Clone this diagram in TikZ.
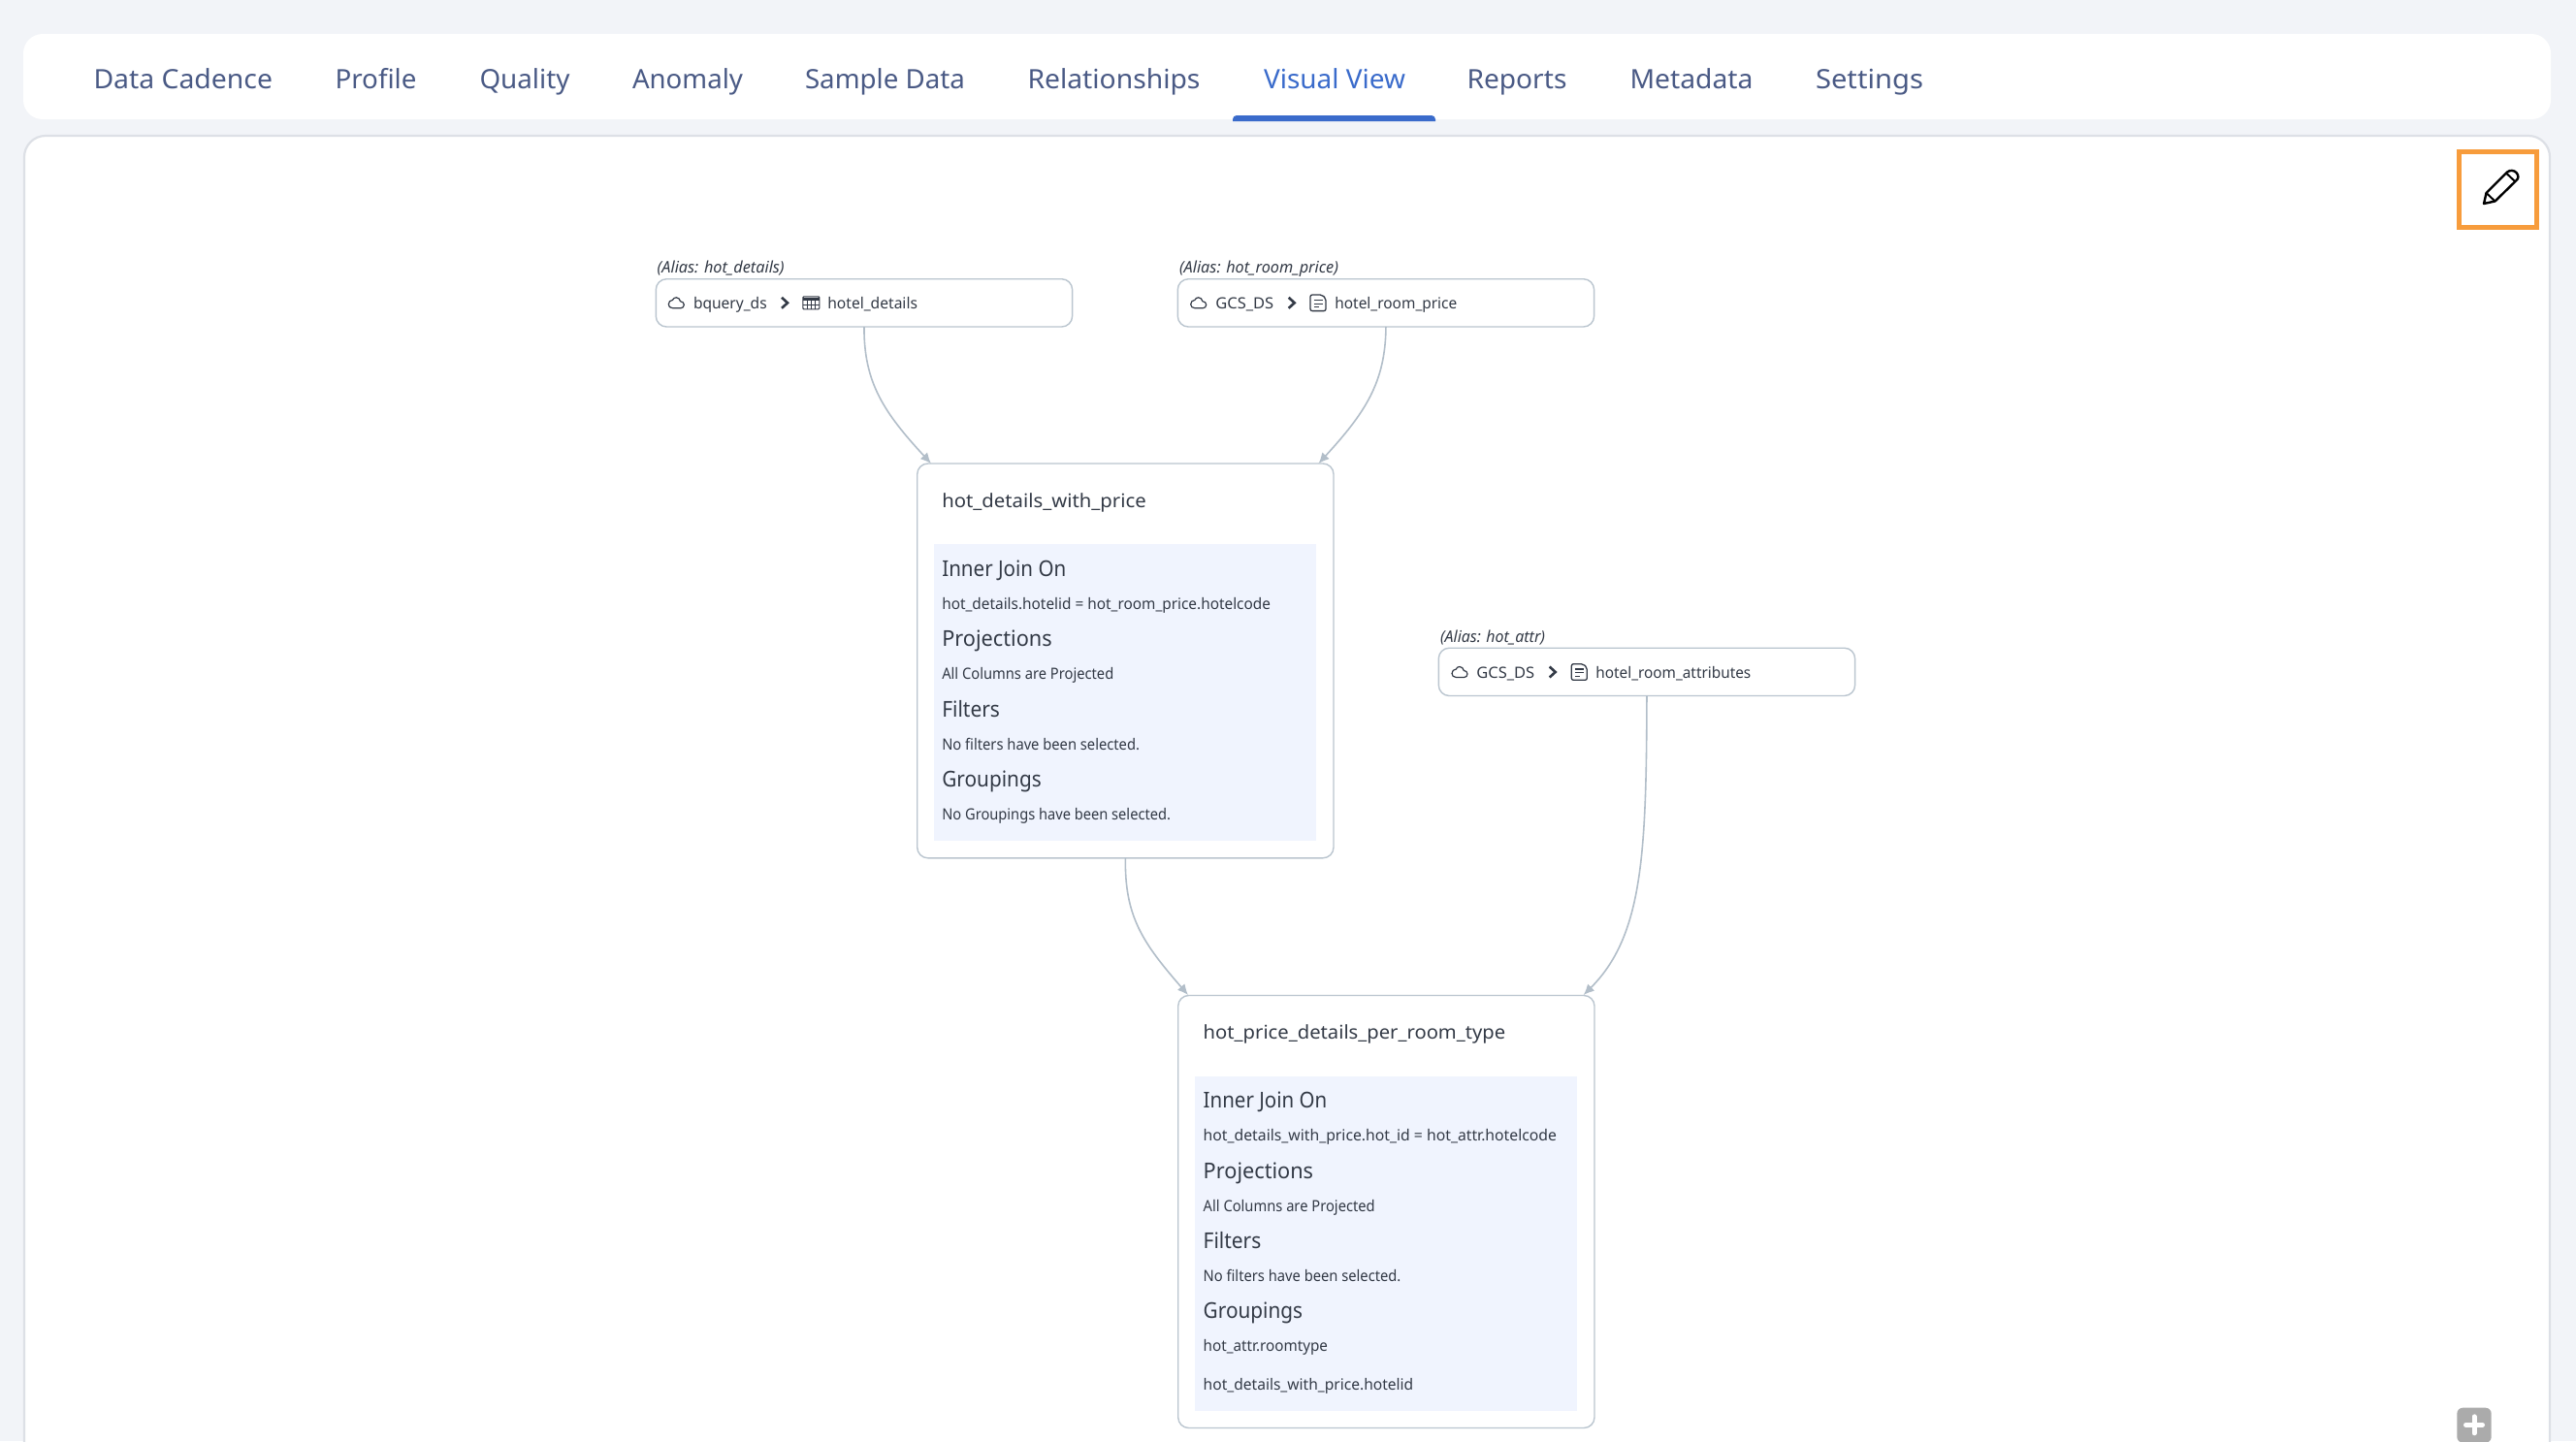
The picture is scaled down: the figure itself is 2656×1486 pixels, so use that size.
\documentclass[tikz,border=0pt]{standalone}
\usepackage{fontspec}
\usepackage{graphicx}
\setmainfont{Noto Sans}
\usetikzlibrary{arrows.meta,calc}
\definecolor{pagebg}{HTML}{F2F4F8}
\definecolor{panelline}{HTML}{DDE0E6}
\definecolor{tabtext}{HTML}{4A5A85}
\definecolor{tabblue}{HTML}{3A6BCB}
\definecolor{nodeline}{HTML}{BAC5CF}
\definecolor{edgeline}{HTML}{B2BEC9}
\definecolor{softblue}{HTML}{F0F4FE}
\definecolor{inktext}{HTML}{333A46}
\definecolor{accent}{HTML}{F79C3C}
\definecolor{plusgrey}{HTML}{ABABAB}
\newsavebox{\fitbox}
\newcommand{\fitw}[2]{\sbox{\fitbox}{#2}\pgfmathsetmacro{\fitr}{#1/\the\wd\fitbox}\scalebox{\fitr}[1]{\usebox{\fitbox}}}
\tikzset{
  x=1pt,y=-1pt,outer sep=0pt,
  tabtxt/.style={anchor=base west,inner sep=0,text=tabtext,font=\fontsize{27.5}{30}\selectfont},
  tabact/.style={tabtxt,text=tabblue},
  aliastxt/.style={anchor=base west,inner sep=0,text=inktext,font=\fontsize{16.5}{18}\selectfont\itshape},
  srctxt/.style={anchor=base west,inner sep=0,text=inktext,font=\fontsize{16}{18}\selectfont},
  titletxt/.style={anchor=base west,inner sep=0,text=inktext,font=\fontsize{19.5}{22}\selectfont},
  headtxt/.style={anchor=base west,inner sep=0,text=inktext,font=\fontsize{22.5}{25}\selectfont},
  smalltxt/.style={anchor=base west,inner sep=0,text=inktext,font=\fontsize{16}{18}\selectfont},
  srcbox/.style={draw=nodeline,line width=1.4pt,fill=white,rounded corners=11pt,minimum width=429.3pt,minimum height=49.3pt,inner sep=0,anchor=north west},
  opbox/.style={draw=nodeline,line width=1.4pt,fill=white,rounded corners=11pt,minimum width=429.3pt,inner sep=0,anchor=north west},
  softbox/.style={fill=softblue,inner sep=0,anchor=north west,minimum width=394pt},
  edge/.style={draw=edgeline,line width=1.6pt,-{Latex[length=11pt,width=10pt]}},
  cloudicon/.pic={\draw[inktext,line width=1.2pt,line join=round]
     (-3.5,5.5) .. controls (-6.5,5.5) and (-8,3.6) .. (-8,1.5) .. controls (-8,-1.2) and (-6.2,-2.7) .. (-4,-2.8)
     .. controls (-3,-4.8) and (-1.4,-5.5) .. (0,-5.5) .. controls (2.2,-5.5) and (3.8,-3.8) .. (4.2,-1.6)
     .. controls (6.5,-1.4) and (8,0) .. (8,2) .. controls (8,4) and (6.5,5.5) .. (4.5,5.5) -- cycle;},
  chevicon/.pic={\draw[inktext,line width=2.6pt,line join=miter] (-3,-5.5) -- (3,0) -- (-3,5.5);},
  tableicon/.pic={\draw[inktext,line width=1.1pt,rounded corners=1pt] (-8.5,-6.5) rectangle (8.5,6.5);
     \draw[inktext,line width=1.1pt] (-8.5,-2.5) -- (8.5,-2.5) (-8.5,2) -- (8.5,2) (-4.2,-2.5) -- (-4.2,6.5) (0,-2.5) -- (0,6.5) (4.2,-2.5) -- (4.2,6.5);
     \draw[inktext,line width=1.8pt] (-8.5,-4.5) -- (8.5,-4.5);},
  docicon/.pic={\draw[inktext,line width=1.3pt,rounded corners=2pt] (-8,-8.3) -- (4,-8.3) -- (8,-4.5) -- (8,8.3) -- (-8,8.3) -- cycle;
     \draw[inktext,line width=1.2pt] (-4.5,-3) -- (4.5,-3) (-4.5,0.8) -- (4.5,0.8) (-4.5,4.5) -- (0.5,4.5);}
}
\begin{document}
\begin{tikzpicture}
\useasboundingbox (0,0) rectangle (2656,1486);
\clip (0,0) rectangle (2656,1486);
\fill[pagebg] (0,0) rectangle (2656,1486);
% tab bar and panel
\node[fill=white,rounded corners=20pt,inner sep=0,minimum width=2606pt,minimum height=88pt,anchor=north west] (tabbar) at (24,35) {};
\node[draw=panelline,line width=2.2pt,fill=white,rounded corners=22pt,inner sep=0,minimum width=2604pt,minimum height=1500pt,anchor=north west] (panel) at (25,140) {};
\fill[tabblue] (1271,125) [rounded corners=4pt] -- (1271,119) -- (1480,119) [sharp corners] -- (1480,125) -- cycle;
% tabs
\node[tabtxt] (t1) at (96.5,91) {\fitw{184.5}{Data Cadence}};
\node[tabtxt] (t2) at (345.5,91) {\fitw{84}{Profile}};
\node[tabtxt] (t3) at (494.5,91) {\fitw{93}{Quality}};
\node[tabtxt] (t4) at (652,91) {\fitw{114}{Anomaly}};
\node[tabtxt] (t5) at (830,91) {\fitw{165}{Sample Data}};
\node[tabtxt] (t6) at (1059.5,91) {\fitw{178}{Relationships}};
\node[tabact] (t7) at (1303,91) {\fitw{146}{Visual View}};
\node[tabtxt] (t8) at (1512.5,91) {\fitw{103}{Reports}};
\node[tabtxt] (t9) at (1680.5,91) {\fitw{127}{Metadata}};
\node[tabtxt] (t10) at (1872,91) {\fitw{111}{Settings}};
% edit button
\node[draw=accent,line width=5pt,inner sep=0,minimum width=80pt,minimum height=78pt,anchor=north west] (editbtn) at (2535.5,156.5) {};
\draw[black,line width=2.4pt,line join=round] (2561,210) -- (2563.5,199) -- (2585,177.5) .. controls (2588,175) and (2592,175.5) .. (2594.5,178) .. controls (2597,181) and (2597,184) .. (2594.5,186) -- (2572.5,207.5) -- cycle;
\draw[black,line width=2pt] (2563.5,199) -- (2572.5,207.5) (2584,178.5) -- (2593,187);
% source nodes
\node[srcbox] (src1) at (676.3,287.7) {};
\node[srcbox] (src2) at (1214.3,287.7) {};
\node[srcbox] (src3) at (1483.3,668.2) {};
% operator nodes
\node[opbox,minimum height=406.8pt] (op1) at (945.7,478) {};
\node[opbox,minimum height=446pt] (op2) at (1214.7,1026.5) {};
\node[softbox,minimum height=305.7pt] (soft1) at (962.7,561.3) {};
\node[softbox,minimum height=345.3pt] (soft2) at (1232,1109.7) {};
% connectors
\coordinate (tipa) at (960,478);
\coordinate (tipb) at (1359.5,478);
\coordinate (tipc) at (1225,1026);
\coordinate (tipd) at (1632.7,1026);
\draw[edge] (src1.south) .. controls (890.5,395) and (912,426) .. (tipa);
\draw[edge] (src2.south) .. controls (1428.5,395) and (1407,426) .. (tipb);
\draw[edge] (op1.south) .. controls (1159.5,945) and (1178,972) .. (tipc);
\draw[edge] (src3.south) .. controls (1697.5,880) and (1694,965) .. (tipd);
% source 1
\node[aliastxt] (a1) at (677.7,281.5) {\fitw{131}{(Alias: hot\_details)}};
\pic at (697.3,312.3) {cloudicon};
\node[srctxt] (s1a) at (715,318.3) {\fitw{75.7}{bquery\_ds}};
\pic at (809,312.3) {chevicon};
\pic at (836.3,312.3) {tableicon};
\node[srctxt] (s1b) at (853.3,318.3) {\fitw{92.7}{hotel\_details}};
% source 2
\node[aliastxt] (a2) at (1216,281.5) {\fitw{164}{(Alias: hot\_room\_price)}};
\pic at (1235.7,312.3) {cloudicon};
\node[srctxt] (s2a) at (1253.3,318.3) {\fitw{60}{GCS\_DS}};
\pic at (1331.7,312.3) {chevicon};
\pic at (1359,312.3) {docicon};
\node[srctxt] (s2b) at (1376.3,318.3) {\fitw{126}{hotel\_room\_price}};
% source 3
\node[aliastxt] (a3) at (1485,662) {\fitw{108}{(Alias: hot\_attr)}};
\pic at (1505,693) {cloudicon};
\node[srctxt] (s3a) at (1522.3,699.3) {\fitw{60}{GCS\_DS}};
\pic at (1600.7,693) {chevicon};
\pic at (1628.3,693) {docicon};
\node[srctxt] (s3b) at (1645.3,699.3) {\fitw{160}{hotel\_room\_attributes}};
% operator 1 text
\node[titletxt] (o1t) at (971.3,523.3) {\fitw{210.4}{hot\_details\_with\_price}};
\node[headtxt] (o1a) at (971.3,594.3) {\fitw{128}{Inner Join On}};
\node[smalltxt] (o1b) at (971.3,628.3) {\fitw{338.7}{hot\_details.hotelid = hot\_room\_price.hotelcode}};
\node[headtxt] (o1c) at (971.3,666.7) {\fitw{113.4}{Projections}};
\node[smalltxt] (o1d) at (971.3,700.7) {\fitw{177}{All Columns are Projected}};
\node[headtxt] (o1e) at (971.3,739.3) {\fitw{59.7}{Filters}};
\node[smalltxt] (o1f) at (971.3,773.3) {\fitw{203.7}{No filters have been selected.}};
\node[headtxt] (o1g) at (971.3,811) {\fitw{102.4}{Groupings}};
\node[smalltxt] (o1h) at (971.3,845.7) {\fitw{235.7}{No Groupings have been selected.}};
% operator 2 text
\node[titletxt] (o2t) at (1240.7,1071.3) {\fitw{311.6}{hot\_price\_details\_per\_room\_type}};
\node[headtxt] (o2a) at (1240.7,1142.7) {\fitw{127.6}{Inner Join On}};
\node[smalltxt] (o2b) at (1240.7,1176.3) {\fitw{364.3}{hot\_details\_with\_price.hot\_id = hot\_attr.hotelcode}};
\node[headtxt] (o2c) at (1240.7,1215) {\fitw{113.4}{Projections}};
\node[smalltxt] (o2d) at (1240.7,1249.7) {\fitw{177}{All Columns are Projected}};
\node[headtxt] (o2e) at (1240.7,1287) {\fitw{59.7}{Filters}};
\node[smalltxt] (o2f) at (1240.7,1321.3) {\fitw{203.7}{No filters have been selected.}};
\node[headtxt] (o2g) at (1240.7,1359) {\fitw{102.4}{Groupings}};
\node[smalltxt] (o2h) at (1240.7,1393.3) {\fitw{128.3}{hot\_attr.roomtype}};
\node[smalltxt] (o2i) at (1240.7,1433.3) {\fitw{216.6}{hot\_details\_with\_price.hotelid}};
% zoom button
\node[fill=plusgrey,rounded corners=6pt,inner sep=0,minimum width=35.4pt,minimum height=36pt,anchor=north west] (zoombtn) at (2533.3,1451.7) {};
\draw[white,line width=5pt,line cap=round] (2542.5,1469.3) -- (2559.5,1469.3) (2551,1460.8) -- (2551,1477.8);
\end{tikzpicture}
\end{document}
